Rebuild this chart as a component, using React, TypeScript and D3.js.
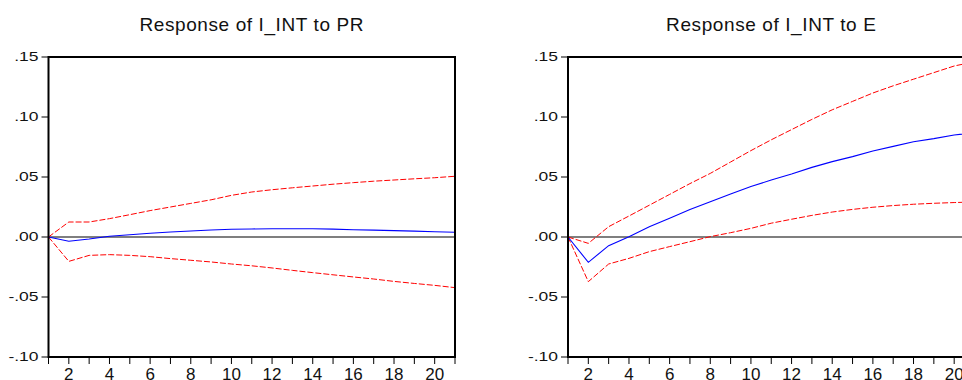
import * as d3 from "d3";

// horizon steps (periods after the shock)
const steps = [1, 2, 3, 4, 5, 6, 7, 8, 9, 10, 11, 12, 13, 14, 15, 16, 17, 18, 19, 20, 21];

// Response of I_INT to PR
const prResponse = [0, -0.0035, -0.0017, 0.0006, 0.0019, 0.0031, 0.0042, 0.005, 0.0058, 0.0064, 0.0067, 0.0069, 0.0069, 0.0069, 0.0066, 0.0061, 0.0057, 0.0053, 0.0049, 0.0044, 0.0039];
const prUpper = [0, 0.0125, 0.0125, 0.0153, 0.0186, 0.022, 0.025, 0.028, 0.031, 0.0347, 0.0375, 0.0394, 0.041, 0.0425, 0.044, 0.0453, 0.0465, 0.0475, 0.0485, 0.0494, 0.0506];
const prLower = [0, -0.0203, -0.0153, -0.0147, -0.0153, -0.0164, -0.018, -0.0194, -0.0208, -0.0225, -0.024, -0.0258, -0.0278, -0.0297, -0.0315, -0.0333, -0.035, -0.037, -0.0387, -0.0403, -0.0422];

// Response of I_INT to E
const eResponse = [0, -0.0211, -0.0072, 0.0003, 0.0086, 0.0156, 0.023, 0.0294, 0.0358, 0.042, 0.0475, 0.0525, 0.058, 0.0628, 0.067, 0.0717, 0.0755, 0.0794, 0.082, 0.085, 0.087];
const eUpper = [0, -0.0053, 0.0086, 0.0175, 0.0265, 0.0355, 0.0445, 0.053, 0.0625, 0.072, 0.081, 0.0895, 0.098, 0.106, 0.113, 0.12, 0.126, 0.1315, 0.137, 0.1425, 0.146];
const eLower = [0, -0.0372, -0.0225, -0.0178, -0.0122, -0.008, -0.0039, 0.0003, 0.0036, 0.0072, 0.0115, 0.0148, 0.018, 0.0208, 0.023, 0.0248, 0.0262, 0.0273, 0.0281, 0.0287, 0.0292];

const yTicks = [0.15, 0.1, 0.05, 0, -0.05, -0.1];
const xLabelTicks = [2, 4, 6, 8, 10, 12, 14, 16, 18, 20];

const W = 962;
const H = 380;
const FONT = "'Liberation Sans', Arial, sans-serif";

const fmtY = (v: number) => {
	const s = Math.abs(v).toFixed(2).replace(/^0/, "");
	return v < 0 ? "-" + s : s;
};

type PanelProps = {
	title: string;
	left: number;
	mid: number[];
	upper: number[];
	lower: number[];
};

const Panel = ({ title, left, mid, upper, lower }: PanelProps) => {
	const top = 57;
	const bottom = 357;
	const plotW = 406.5;

	const x = d3.scaleLinear().domain([1, 21]).range([left, left + plotW]);
	const y = d3.scaleLinear().domain([-0.1, 0.15]).range([bottom, top]);

	const line = (vals: number[]) =>
		d3
			.line<number>()
			.x((_d, i) => x(steps[i]))
			.y((d) => y(d))(vals) ?? "";

	return (
		<g>
			<text
				x={left + plotW / 2}
				y={31}
				textAnchor="middle"
				fontSize={19}
				letterSpacing={0.6}
				fill="#111"
			>
				{title}
			</text>

			{/* zero line */}
			<line x1={x(1)} x2={x(21)} y1={y(0)} y2={y(0)} stroke="#555" strokeWidth={1.4} />

			{/* confidence bands */}
			<path d={line(upper)} fill="none" stroke="#ff0000" strokeWidth={1} strokeDasharray="6,2" />
			<path d={line(lower)} fill="none" stroke="#ff0000" strokeWidth={1} strokeDasharray="6,2" />
			{/* response */}
			<path d={line(mid)} fill="none" stroke="#0000ff" strokeWidth={1.1} />

			{/* frame */}
			<rect x={left} y={top} width={plotW} height={bottom - top} fill="none" stroke="#000" strokeWidth={2} />

			{/* y axis: labels are drawn wide, like the original export */}
			{yTicks.map((t) => (
				<g key={t}>
					<line x1={left - 7} x2={left} y1={y(t)} y2={y(t)} stroke="#000" strokeWidth={1} />
					<text
						transform={`translate(${left - 10},${y(t) + 4}) scale(1.4,1)`}
						textAnchor="end"
						fontSize={12.5}
						fill="#111"
					>
						{fmtY(t)}
					</text>
				</g>
			))}

			{/* x axis */}
			{steps.map((s) => (
				<line key={s} x1={x(s)} x2={x(s)} y1={bottom} y2={bottom + 7} stroke="#000" strokeWidth={1} />
			))}
			{xLabelTicks.map((s) => (
				<text key={s} x={x(s)} y={380} textAnchor="middle" fontSize={17} fill="#111">
					{s}
				</text>
			))}
		</g>
	);
};

const App = () => {
	return (
		<svg
			width={W}
			height={H}
			style={{ position: "absolute", left: 0, top: 0, background: "#fff" }}
			fontFamily={FONT}
		>
			<rect width={W} height={H} fill="#fff" />
			<Panel title="Response of I_INT to PR" left={48.5} mid={prResponse} upper={prUpper} lower={prLower} />
			<Panel title="Response of I_INT to E" left={568} mid={eResponse} upper={eUpper} lower={eLower} />
		</svg>
	);
};

export default App;
